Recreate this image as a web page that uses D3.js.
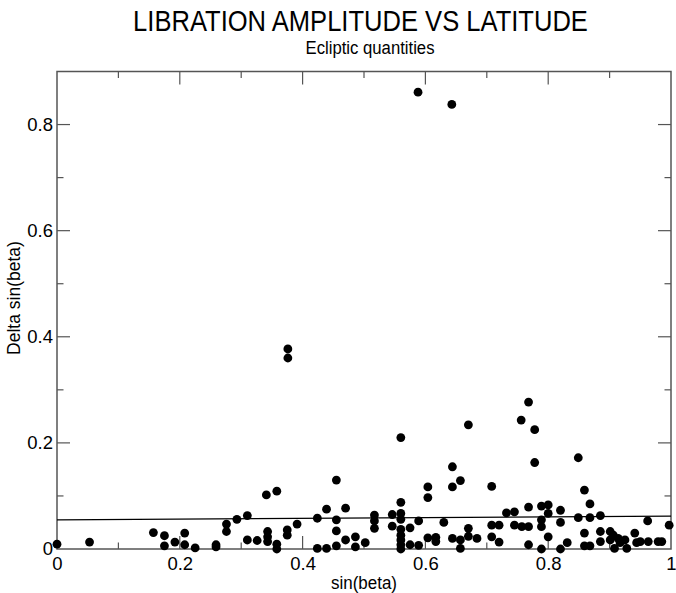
<!DOCTYPE html>
<html>
<head>
<meta charset="utf-8">
<script src="https://cdn.jsdelivr.net/npm/d3@7"></script>
<style>
  html, body { margin: 0; padding: 0; background: #fff; }
  svg { display: block; }
  text { font-family: "Liberation Sans", Arial, Helvetica, sans-serif; fill: #000; }
</style>
</head>
<body>
<svg id="chart" width="676" height="593"></svg>
<script>
// sin(beta) of each object
const sinBeta = [
  0.000, 0.053, 0.157, 0.175, 0.175, 0.192, 0.208, 0.208, 0.225, 0.259,
  0.259, 0.276, 0.276, 0.293, 0.310, 0.310, 0.326, 0.341, 0.358, 0.343,
  0.343, 0.343, 0.358, 0.358, 0.375, 0.375, 0.376, 0.376, 0.391, 0.424,
  0.424, 0.439, 0.439, 0.455, 0.455, 0.455, 0.455, 0.470, 0.470, 0.486,
  0.486, 0.502, 0.517, 0.517, 0.517, 0.546, 0.546, 0.560, 0.560, 0.560,
  0.560, 0.560, 0.560, 0.560, 0.560, 0.560, 0.575, 0.575, 0.588, 0.589,
  0.589, 0.604, 0.604, 0.604, 0.617, 0.617, 0.630, 0.643, 0.644, 0.644,
  0.644, 0.657, 0.657, 0.657, 0.670, 0.670, 0.670, 0.684, 0.708, 0.708,
  0.708, 0.720, 0.720, 0.732, 0.745, 0.745, 0.756, 0.757, 0.768, 0.768,
  0.768, 0.768, 0.778, 0.778, 0.789, 0.789, 0.789, 0.789, 0.800, 0.800,
  0.800, 0.820, 0.820, 0.820, 0.831, 0.849, 0.849, 0.859, 0.859, 0.859,
  0.868, 0.868, 0.868, 0.885, 0.885, 0.885, 0.901, 0.901, 0.906, 0.908,
  0.914, 0.917, 0.925, 0.928, 0.941, 0.944, 0.950, 0.962, 0.963, 0.979,
  0.985, 0.997
];

// libration amplitude in sin(beta), same order
const deltaSinBeta = [
  0.009, 0.013, 0.031, 0.025, 0.006, 0.013, 0.030, 0.008, 0.002, 0.004,
  0.008, 0.047, 0.033, 0.056, 0.063, 0.017, 0.016, 0.102, 0.109, 0.033,
  0.023, 0.014, 0.009, 0.000, 0.036, 0.026, 0.377, 0.360, 0.047, 0.058,
  0.001, 0.075, 0.001, 0.130, 0.055, 0.034, 0.006, 0.077, 0.017, 0.023,
  0.004, 0.012, 0.064, 0.053, 0.039, 0.065, 0.043, 0.210, 0.088, 0.067,
  0.056, 0.037, 0.026, 0.017, 0.008, 0.000, 0.040, 0.008, 0.861, 0.053,
  0.007, 0.117, 0.097, 0.021, 0.022, 0.014, 0.050, 0.838, 0.155, 0.117,
  0.020, 0.129, 0.017, 0.001, 0.234, 0.039, 0.024, 0.020, 0.118, 0.045,
  0.023, 0.045, 0.013, 0.068, 0.070, 0.045, 0.243, 0.042, 0.277, 0.079,
  0.042, 0.008, 0.225, 0.163, 0.081, 0.055, 0.042, 0.000, 0.083, 0.067,
  0.023, 0.073, 0.050, 0.000, 0.012, 0.172, 0.059, 0.111, 0.030, 0.006,
  0.085, 0.059, 0.006, 0.063, 0.033, 0.014, 0.033, 0.017, 0.026, 0.001,
  0.020, 0.012, 0.017, 0.001, 0.030, 0.012, 0.014, 0.053, 0.014, 0.014,
  0.014, 0.045
];

// least-squares fit line: delta = intercept + slope * sin(beta)
const fitIntercept = 0.055;
const fitSlope = 0.007;

const xMajorTicks = [0, 0.2, 0.4, 0.6, 0.8, 1];
const xMinorTicks = [0.1, 0.3, 0.5, 0.7, 0.9];
const yMajorTicks = [0, 0.2, 0.4, 0.6, 0.8];
const yMinorTicks = [0.1, 0.3, 0.5, 0.7];

const svg = d3.select("#chart");
const plot = { left: 57, right: 671, top: 71.5, bottom: 549 };

const x = d3.scaleLinear().domain([0, 1]).range([plot.left, plot.right]);
const y = d3.scaleLinear().domain([0, 0.9]).range([plot.bottom, plot.top]);

const frameColor = "#555";
const majorLen = 13, minorLen = 6.5;

// frame
svg.append("rect")
  .attr("x", plot.left).attr("y", plot.top)
  .attr("width", plot.right - plot.left).attr("height", plot.bottom - plot.top)
  .attr("fill", "none").attr("stroke", frameColor).attr("stroke-width", 1.5);

// tick labels
const fmt = d => d === 0 || d === 1 ? String(d) : d3.format(".1f")(d);
const bottomAxis = d3.axisBottom(x).tickValues(xMajorTicks).tickSize(0).tickPadding(8).tickFormat(fmt);
const gx = svg.append("g").attr("transform", `translate(0,${plot.bottom})`).call(bottomAxis);
gx.select(".domain").remove();
gx.selectAll("text").attr("font-size", 18.5).attr("font-family", "Liberation Sans, Arial, sans-serif");

const leftAxis = d3.axisLeft(y).tickValues(yMajorTicks).tickSize(0).tickPadding(4).tickFormat(fmt);
const gy = svg.append("g").attr("transform", `translate(${plot.left},0)`).call(leftAxis);
gy.select(".domain").remove();
gy.selectAll("text").attr("font-size", 18.5).attr("font-family", "Liberation Sans, Arial, sans-serif");

// inward ticks on all four sides
const ticks = svg.append("g").attr("stroke", frameColor).attr("stroke-width", 1.2);
function xTicks(vals, len) {
  vals.forEach(v => {
    ticks.append("line").attr("x1", x(v)).attr("x2", x(v)).attr("y1", plot.bottom).attr("y2", plot.bottom - len);
    ticks.append("line").attr("x1", x(v)).attr("x2", x(v)).attr("y1", plot.top).attr("y2", plot.top + len);
  });
}
function yTicks(vals, len) {
  vals.forEach(v => {
    ticks.append("line").attr("y1", y(v)).attr("y2", y(v)).attr("x1", plot.left).attr("x2", plot.left + len);
    ticks.append("line").attr("y1", y(v)).attr("y2", y(v)).attr("x1", plot.right).attr("x2", plot.right - len);
  });
}
xTicks(xMajorTicks.filter(v => v > 0 && v < 1), majorLen);
xTicks(xMinorTicks, minorLen);
yTicks(yMajorTicks.filter(v => v > 0), majorLen);
yTicks(yMinorTicks, minorLen);

// fit line
svg.append("line")
  .attr("x1", x(0)).attr("y1", y(fitIntercept))
  .attr("x2", x(1)).attr("y2", y(fitIntercept + fitSlope))
  .attr("stroke", "#000").attr("stroke-width", 1.3);

// data points
const pts = sinBeta.map((s, i) => ({ s, d: deltaSinBeta[i] }));
svg.append("g").selectAll("circle").data(pts).join("circle")
  .attr("cx", p => x(p.s)).attr("cy", p => y(p.d)).attr("r", 4.4).attr("fill", "#000");

// condensed text: squeeze a label horizontally to a given width, centred on cx
function condensed(cx, baseline, size, width, str) {
  const g = svg.append("g");
  const t = g.append("text").attr("x", 0).attr("y", 0).attr("text-anchor", "middle")
    .attr("font-size", size).text(str);
  const natural = t.node().getComputedTextLength();
  g.attr("transform", `translate(${cx},${baseline}) scale(${width / natural},1)`);
  return g;
}

condensed(360.5, 31, 30, 455, "LIBRATION AMPLITUDE VS LATITUDE");
condensed(370, 54, 18, 129, "Ecliptic quantities");
condensed(364, 588.5, 18.5, 66, "sin(beta)");

svg.append("text").attr("transform", "translate(20,298) rotate(-90)").attr("text-anchor", "middle")
  .attr("font-size", 17.5).text("Delta sin(beta)");
</script>
</body>
</html>
